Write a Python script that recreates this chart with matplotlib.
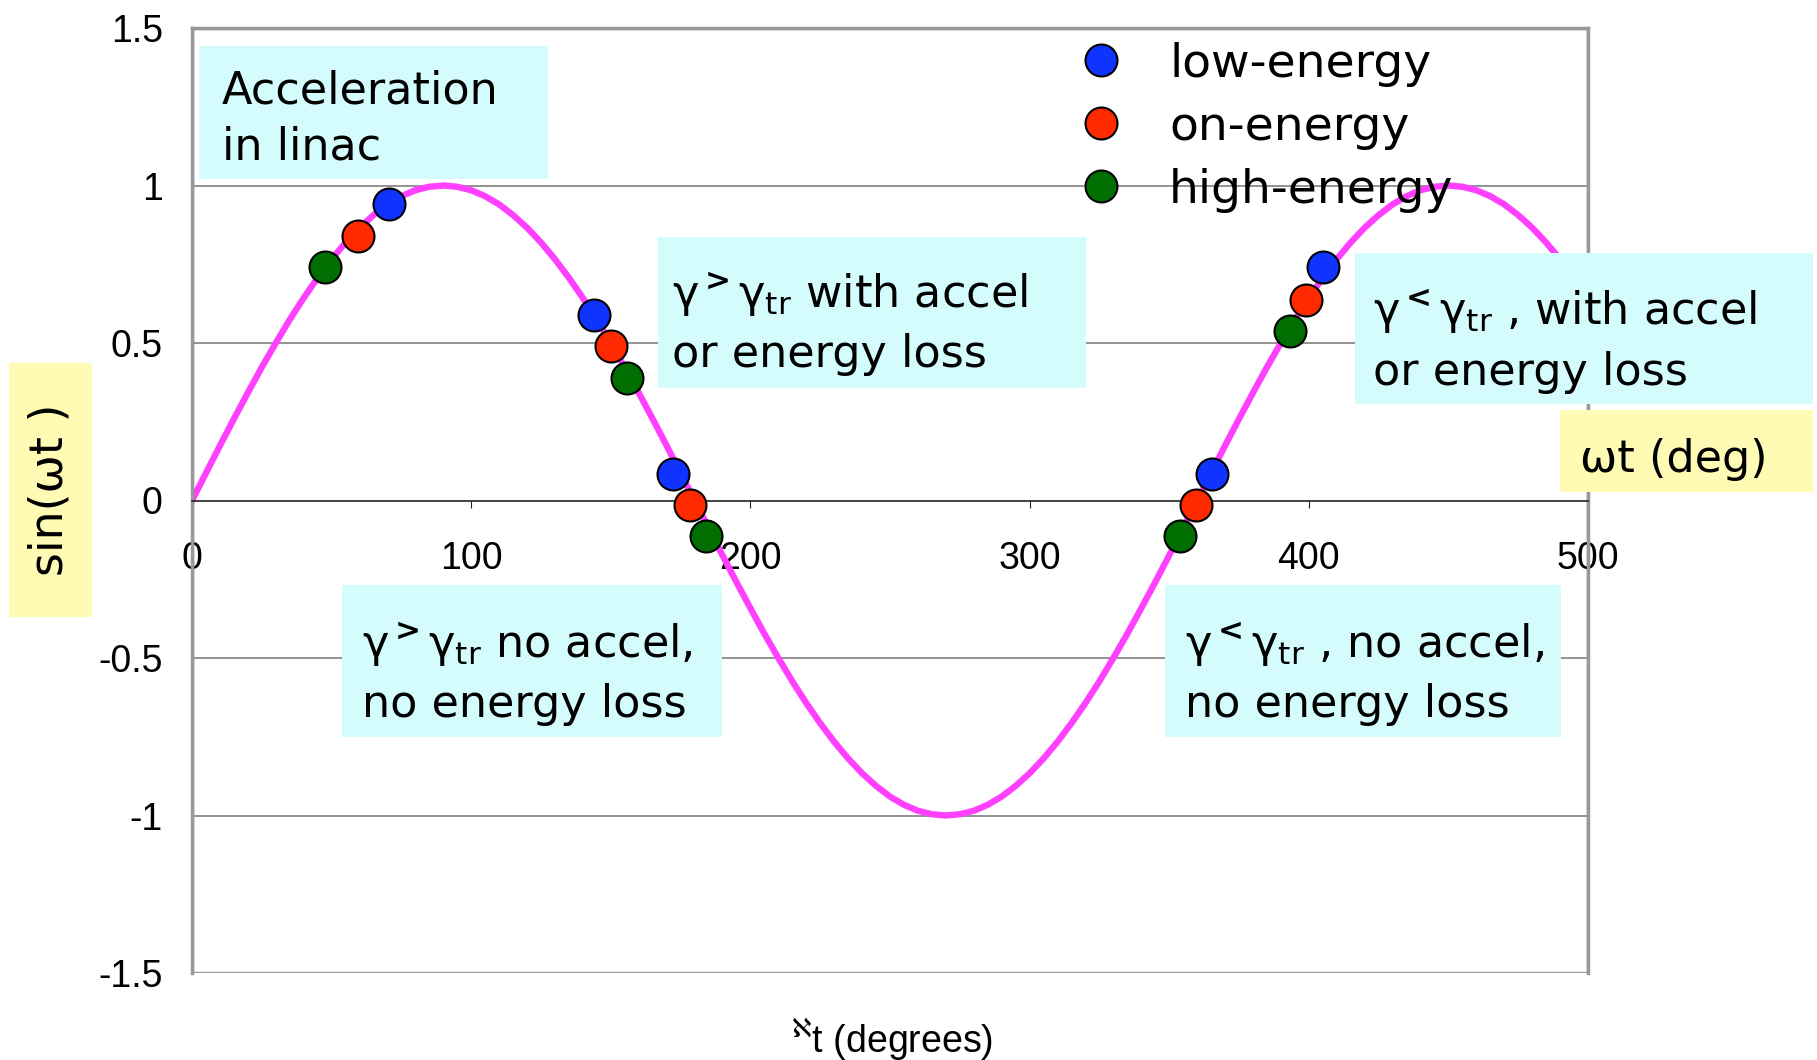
import matplotlib
matplotlib.use("Agg")
import matplotlib.pyplot as plt
from matplotlib.patches import Rectangle

# the sine curve, read every 5 degrees off the picture (0 .. 500)
deg = list(range(0, 505, 5))
sin_wt = [0.000, 0.087, 0.174, 0.259, 0.342, 0.423, 0.500, 0.574, 0.643, 0.707,
          0.766, 0.819, 0.866, 0.906, 0.940, 0.966, 0.985, 0.996, 1.000,
          0.996, 0.985, 0.966, 0.940, 0.906, 0.866, 0.819, 0.766, 0.707, 0.643,
          0.574, 0.500, 0.423, 0.342, 0.259, 0.174, 0.087, 0.000,
          -0.087, -0.174, -0.259, -0.342, -0.423, -0.500, -0.574, -0.643,
          -0.707, -0.766, -0.819, -0.866, -0.906, -0.940, -0.966, -0.985,
          -0.996, -1.000,
          -0.996, -0.985, -0.966, -0.940, -0.906, -0.866, -0.819, -0.766,
          -0.707, -0.643, -0.574, -0.500, -0.423, -0.342, -0.259, -0.174,
          -0.087, 0.000,
          0.087, 0.174, 0.259, 0.342, 0.423, 0.500, 0.574, 0.643, 0.707,
          0.766, 0.819, 0.866, 0.906, 0.940, 0.966, 0.985, 0.996, 1.000,
          0.996, 0.985, 0.966, 0.940, 0.906, 0.866, 0.819, 0.766, 0.707, 0.643]

# particle positions
low_x = [70.6, 144, 172.3, 365.4, 405]
low_y = [0.94, 0.59, 0.085, 0.085, 0.74]
on_x = [59.4, 150, 178.2, 359.6, 399.1]
on_y = [0.84, 0.49, -0.015, -0.015, 0.636]
high_x = [47.8, 155.7, 184, 353.8, 393.3]
high_y = [0.74, 0.39, -0.114, -0.114, 0.537]

W, H = 1817, 1060
CYAN = '#D4FCFC'
YELLOW = '#FFFBB5'
TXT = 'DejaVu Sans'


def fx(px):
    return px / W


def fy(py):
    return 1 - py / H


def box(x0, y0, x1, y1, color):
    fig.add_artist(Rectangle((fx(x0), fy(y1)), fx(x1 - x0), (y1 - y0) / H,
                             transform=fig.transFigure, facecolor=color,
                             edgecolor='none', zorder=5))


def line(x, y, s, size=32, **kw):
    fig.text(fx(x), fy(y), s, fontsize=size, family=TXT, va='baseline',
             zorder=6, **kw)


fig = plt.figure(figsize=(W / 100, H / 100), dpi=100)
ax = fig.add_axes([fx(192), fy(973), fx(1588 - 192), (973 - 28) / H])

ax.plot(deg, sin_wt, color='#FF40FF', lw=4.6, zorder=2,
        solid_joinstyle='round')
ax.plot(low_x, low_y, 'o', ms=23, mfc='#1133FF', mec='black', mew=1.5,
        label='low-energy', zorder=4, clip_on=False)
ax.plot(on_x, on_y, 'o', ms=23, mfc='#FF2A00', mec='black', mew=1.5,
        label='on-energy', zorder=4, clip_on=False)
ax.plot(high_x, high_y, 'o', ms=23, mfc='#006E00', mec='black', mew=1.5,
        label='high-energy', zorder=4, clip_on=False)

ax.set_xlim(0, 500)
ax.set_ylim(-1.5, 1.5)
ax.set_xticks([0, 100, 200, 300, 400, 500])
ax.set_yticks([-1.5, -1, -0.5, 0, 0.5, 1, 1.5])
ax.set_yticklabels(['-1.5', '-1', '-0.5', '0', '0.5', '1', '1.5'])
for y in [-1, -0.5, 0.5, 1]:
    ax.axhline(y, color='#808080', lw=1.2, zorder=1)

# excel style: x axis sits at y=0, grey frame round the plot area
for s in ['top', 'right', 'left']:
    ax.spines[s].set_color('#999999')
    ax.spines[s].set_linewidth(2.5)
ax.spines['bottom'].set_position(('data', 0))
ax.spines['bottom'].set_color('#222222')
ax.spines['bottom'].set_linewidth(1.2)
ax.add_patch(Rectangle((0, 0), 1, 1, transform=ax.transAxes, fill=False,
                       edgecolor='#999999', lw=2.5, zorder=0.5))
ax.tick_params(axis='y', length=0, pad=21, labelsize=27)
ax.tick_params(axis='x', length=5, pad=24, labelsize=27, color='#222222',
               direction='out')
for lab in ax.get_xticklabels() + ax.get_yticklabels():
    lab.set_family('Liberation Sans')

leg = ax.legend(loc='upper left', bbox_to_anchor=(fx(1077), fy(42)),
                bbox_transform=fig.transFigure, frameon=False, fontsize=34,
                handlelength=1.0, handletextpad=0.95, labelspacing=0.38,
                borderpad=0, borderaxespad=0)
for t in leg.get_texts():
    t.set_family(TXT)

# annotation boxes
box(199, 46, 548, 179, CYAN)
line(222, 103, 'Acceleration')
line(222, 160, 'in linac')

box(658, 237, 1086, 388, CYAN)
line(672, 308, r'γ$^{\mathbf{>}}$γ$_{\mathrm{tr}}$ with accel')
line(672, 367, 'or energy loss')

box(1355, 253, 1813, 404, CYAN)
line(1373, 325, r'γ$^{\mathbf{<}}$γ$_{\mathrm{tr}}$ , with accel')
line(1373, 385, 'or energy loss')

box(342, 585, 722, 737, CYAN)
line(362, 658, r'γ$^{\mathbf{>}}$γ$_{\mathrm{tr}}$ no accel,')
line(362, 717, 'no energy loss')

box(1165, 585, 1561, 737, CYAN)
line(1185, 658, r'γ$^{\mathbf{<}}$γ$_{\mathrm{tr}}$ , no accel,')
line(1185, 717, 'no energy loss')

# axis titles
box(9, 363, 92, 617, YELLOW)
fig.text(fx(50), fy(490), 'sin(ωt )', fontsize=33, family=TXT, rotation=90,
         ha='center', va='center', zorder=6)
box(1560, 410, 1813, 492, YELLOW)
line(1580, 472, 'ωt (deg)')

fig.text(fx(892), fy(1052), r'$^{\aleph}$t (degrees)', fontsize=27,
         family='Liberation Sans', ha='center', va='baseline')

fig.savefig('out.png', dpi=100)
